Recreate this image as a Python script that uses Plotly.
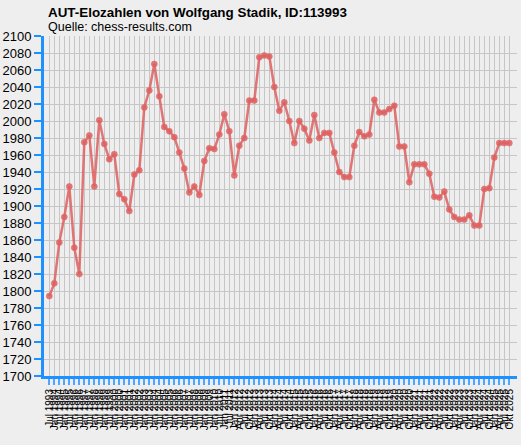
import plotly.graph_objects as go

title_text = "AUT-Elozahlen von Wolfgang Stadik, ID:113993"
source_text = "Quelle: chess-results.com"

# rating list dates (half-yearly up to 2012, then quarterly)
dates = [
    "Jul 1993",
    "Jan 1994", "Jul 1994", "Jan 1995", "Jul 1995", "Jan 1996", "Jul 1996",
    "Jan 1997", "Jul 1997", "Jan 1998", "Jul 1998", "Jan 1999", "Jul 1999",
    "Jan 2000", "Jul 2000", "Jan 2001", "Jul 2001", "Jan 2002", "Jul 2002",
    "Jan 2003", "Jul 2003", "Jan 2004", "Jul 2004", "Jan 2005", "Jul 2005",
    "Jan 2006", "Jul 2006", "Jan 2007", "Jul 2007", "Jan 2008", "Jul 2008",
    "Jan 2009", "Jul 2009", "Jan 2010", "Jul 2010", "Jan 2011", "Jul 2011",
    "Jan 2012", "Apr 2012", "Jul 2012", "Okt 2012",
    "Jan 2013", "Apr 2013", "Jul 2013", "Okt 2013",
    "Jan 2014", "Apr 2014", "Jul 2014", "Okt 2014",
    "Jan 2015", "Apr 2015", "Jul 2015", "Okt 2015",
    "Jan 2016", "Apr 2016", "Jul 2016", "Okt 2016",
    "Jan 2017", "Apr 2017", "Jul 2017", "Okt 2017",
    "Jan 2018", "Apr 2018", "Jul 2018", "Okt 2018",
    "Jan 2019", "Apr 2019", "Jul 2019", "Okt 2019",
    "Jan 2020", "Apr 2020", "Jul 2020", "Okt 2020",
    "Jan 2021", "Apr 2021", "Jul 2021", "Okt 2021",
    "Jan 2022", "Apr 2022", "Jul 2022", "Okt 2022",
    "Jan 2023", "Apr 2023", "Jul 2023", "Okt 2023",
    "Jan 2024", "Apr 2024", "Jul 2024", "Okt 2024",
    "Jan 2025", "Apr 2025", "Jul 2025", "Okt 2025",
]

elo = [
    1794, 1809, 1857, 1887, 1923, 1851, 1820, 1975, 1983, 1923,
    2001, 1973, 1955, 1961, 1914, 1908, 1894, 1937, 1942, 2016,
    2036, 2067, 2029, 1993, 1988, 1981, 1963, 1944, 1916, 1923,
    1913, 1953, 1968, 1967, 1984, 2008, 1988, 1936, 1971, 1980,
    2024, 2024, 2075, 2077, 2076, 2040, 2012, 2022, 2000, 1974,
    2000, 1991, 1977, 2007, 1980, 1986, 1986, 1963, 1940, 1934,
    1934, 1971, 1987, 1982, 1984, 2025, 2010, 2010, 2014, 2018,
    1970, 1970, 1928, 1949, 1949, 1949, 1938, 1911, 1910, 1917,
    1896, 1887, 1884, 1884, 1889, 1877, 1877, 1920, 1921, 1957,
    1974, 1974, 1974,
]

y_ticks = list(range(1700, 2101, 20))

idx = list(range(len(elo)))

fig = go.Figure()
fig.add_trace(go.Scatter(
    x=idx, y=elo, mode="lines+markers",
    line=dict(color="rgba(222,95,95,0.85)", width=2.5),
    marker=dict(color="rgba(222,95,95,0.85)", size=6,
                line=dict(color="rgba(222,110,110,0.6)", width=1)),
    hoverinfo="text",
    hovertext=[f"{d}: {e}" for d, e in zip(dates, elo)],
    showlegend=False,
))

W, H = 521, 445
ML, MR, MT, MB = 44, 4, 36, 69


def px_to_paper(x, y):
    return (x - ML) / (W - ML - MR), (H - y - MB) / (H - MT - MB)


tx, ty = px_to_paper(46, 12)
sx, sy = px_to_paper(46, 27)

fig.update_layout(
    width=W, height=H,
    paper_bgcolor="#eeeeee", plot_bgcolor="#eeeeee",
    margin=dict(l=ML, r=MR, t=MT, b=MB, autoexpand=False),
    font=dict(family="Liberation Sans, Arial, sans-serif", color="black"),
    annotations=[
        dict(text="<b>" + title_text + "</b>", x=tx, y=ty,
             xref="paper", yref="paper", showarrow=False,
             xanchor="left", yanchor="middle", font=dict(size=13.4)),
        dict(text=source_text, x=sx, y=sy,
             xref="paper", yref="paper", showarrow=False,
             xanchor="left", yanchor="middle", font=dict(size=12.5)),
    ],
)

fig.update_xaxes(
    range=[-1.06, 93.54],
    tickmode="array", tickvals=idx, ticktext=dates,
    tickangle=-90, tickfont=dict(size=10),
    showgrid=True, gridcolor="#c6c6c6", gridwidth=1,
    showline=True, linecolor="#1e90ff", linewidth=3,
    ticks="outside", ticklen=6, tickwidth=2, tickcolor="#4da6ff",
    zeroline=False, fixedrange=True,
)
fig.update_yaxes(
    range=[1700, 2100],
    tickmode="array", tickvals=y_ticks,
    tickfont=dict(size=13),
    showgrid=True, gridcolor="#c6c6c6", gridwidth=1,
    showline=True, linecolor="#1e90ff", linewidth=3,
    ticks="outside", ticklen=7, tickwidth=2, tickcolor="#1e90ff",
    zeroline=False, fixedrange=True,
)

fig.write_html("out.html", config={"displayModeBar": False},
               post_script="document.body.style.margin='0';")
